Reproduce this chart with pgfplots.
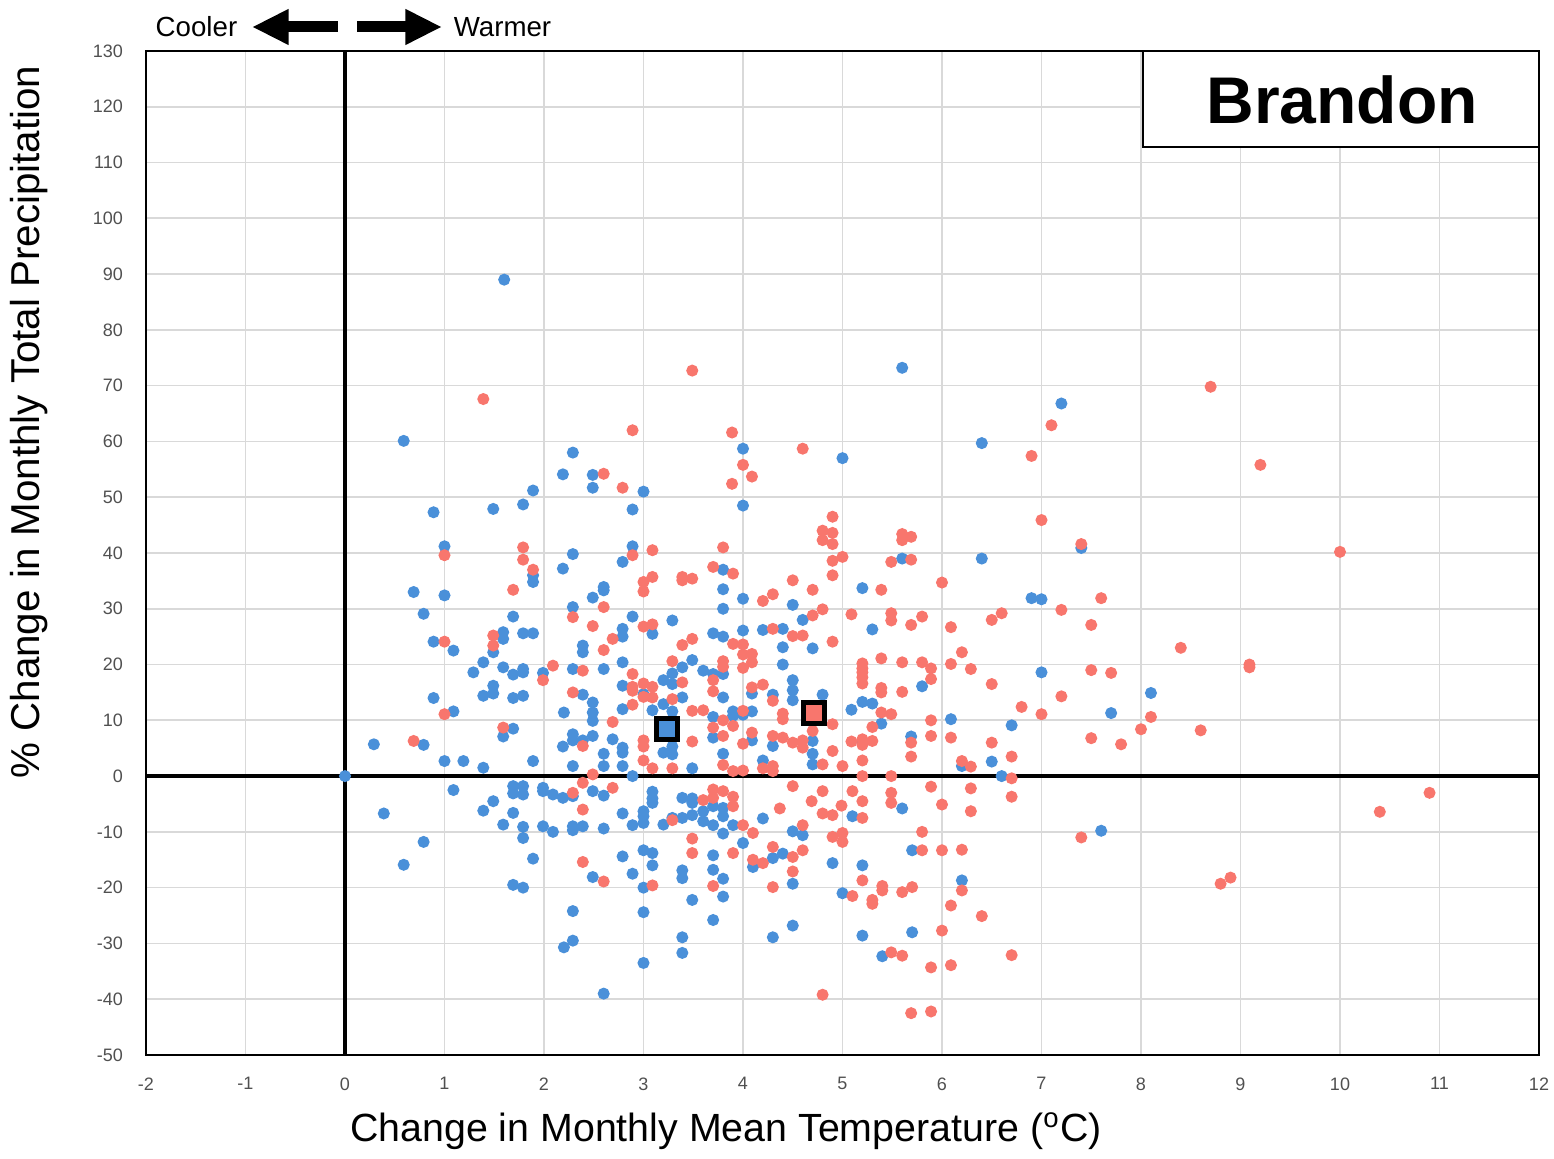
\documentclass[border=0pt]{standalone}
\usepackage{pgfplots}
\pgfplotsset{compat=1.18}
\usepackage{fontspec}
\setmainfont{Liberation Sans}
\usetikzlibrary{arrows.meta}
\definecolor{cblue}{RGB}{74,144,217}
\definecolor{cred}{RGB}{248,118,109}
\definecolor{ticklab}{RGB}{80,80,80}
\begin{document}
\begin{tikzpicture}
\useasboundingbox (-43.8pt,-31.2pt) rectangle (422.4pt,316.5pt);
\begin{axis}[
  scale only axis, width=417.9pt, height=301.2pt,
  xmin=-2, xmax=12, ymin=-50, ymax=130,
  xtick={-2,-1,...,12}, ytick={-50,-40,...,130},
  grid=major, major grid style={draw=black!15, line width=0.5pt},
  axis line style={black, line width=0.7pt},
  major tick length=0pt,
  /pgf/number format/assume math mode=true,
  tick label style={font=\fontsize{5.4}{6}\selectfont, color=ticklab},
  xticklabel style={yshift=-3.2pt},
  yticklabel style={xshift=-3.4pt},
  clip=false,
]
\addplot[only marks, mark=*, mark size=1.6pt, color=cblue, mark options={fill=cblue, draw=cblue}] coordinates {
(0.59,60.1)(0.89,47.3)(1.49,47.9)(1.79,48.7)(1.89,51.2)(2.19,54.1)(2.29,58)(1.0,41.2)(1.6,89)
(2.49,54)(4.0,58.7)(2.49,51.7)(3.0,51)(2.89,47.8)(4.0,48.5)(2.89,41.2)(2.29,39.8)(2.79,38.4)
(5.6,73.2)(5.0,57)(6.4,59.7)(5.6,39)(6.4,39)(7.2,66.8)(7.4,40.9)
(6.9,31.9)(7.0,31.7)(7.0,18.6)(7.7,11.3)(6.7,9.1)(6.6,0)(8.1,14.9)(7.6,-9.8)
(1.89,36)(1.89,34.8)(2.19,37.2)(0.69,33)(1.0,32.4)(0.79,29.1)(1.69,28.6)(0.89,24.1)(1.09,22.5)
(1.59,25.8)(1.59,24.6)(1.79,25.6)(1.89,25.6)(1.49,22.2)(1.39,20.4)(1.29,18.6)(1.59,19.5)(1.69,18.2)
(1.79,19.2)(1.79,18.6)(1.99,18.5)(1.49,16.2)(1.49,14.8)(1.39,14.4)(1.69,14)(1.79,14.4)(0.89,14)
(1.09,11.6)(1.69,8.5)(1.59,7.1)(0.29,5.7)(0.79,5.6)(2.19,5.3)(1.0,2.7)(1.19,2.7)(1.39,1.5)(1.89,2.7)(0,0)
(1.09,-2.5)(0.39,-6.7)(1.39,-6.2)(1.49,-4.5)(1.69,-1.8)(1.79,-1.8)(1.69,-3.1)(1.79,-3.3)(1.99,-2.1)
(1.99,-2.7)(2.09,-3.3)(2.19,-3.9)(1.69,-6.6)(1.59,-8.7)(1.79,-9.1)(1.79,-11.1)(1.99,-9)(2.09,-10)
(0.79,-11.8)(0.59,-15.9)(1.89,-14.8)(1.69,-19.5)(1.79,-20)
(2.29,-3.6)(2.29,-9)(2.29,-9.7)(2.39,-9)(2.49,-2.7)(2.6,-3.5)(2.6,-9.4)(2.79,-6.7)(2.89,-8.8)
(3.0,-6.3)(3.0,-7.2)(3.0,-8.4)(3.09,-2.8)(3.09,-4)(3.09,-4.8)(3.2,-8.7)(3.29,-7.5)(3.39,-7.5)(3.49,-7)
(3.39,-3.9)(3.49,-4)(3.49,-4.8)(3.6,-6.3)(3.6,-8.1)(3.7,-5.4)(3.7,-8.8)(3.8,-5.7)(3.8,-7.2)(3.9,-8.8)
(3.8,-10.3)(4.0,-12)(4.2,-7.6)(2.29,-24.2)(2.29,-29.5)(2.2,-30.7)(2.49,-18.1)(2.79,-14.4)(2.89,-17.5)
(3.0,-13.3)(3.09,-13.8)(3.09,-16)(3.0,-20)(3.0,-24.4)(3.0,-33.5)(2.6,-39)(3.7,-14.2)(3.7,-16.8)
(3.8,-18.4)(3.39,-16.9)(3.39,-18.3)(3.49,-22.2)(3.8,-21.6)(3.7,-25.8)(3.39,-28.9)(3.39,-31.7)
(4.1,-16.3)(4.3,-14.7)(4.3,-28.9)
(5.6,-5.8)(5.1,-7.2)(4.5,-9.9)(4.6,-10.6)(4.4,-13.9)(4.5,-19.3)(4.9,-15.6)(5.2,-16)(5.0,-21)
(5.7,-13.3)(6.2,-18.7)(5.7,-28)(5.2,-28.6)(4.5,-26.8)(5.4,-32.3)
(2.6,33.9)(2.6,33.3)(2.49,32)(2.29,30.3)(3.8,37)(3.8,33.5)(3.8,30)(4.0,31.8)(2.89,28.6)(2.79,26.4)
(2.79,25)(3.09,25.5)(3.29,27.9)(2.39,23.4)(2.39,22.2)(3.7,25.6)(3.8,25)(4.0,26.1)(4.2,26.2)
(2.29,19.2)(2.6,19.2)(2.79,20.4)(2.79,16.2)(2.79,12)(3.0,14.7)(3.2,17.2)(3.29,18.4)(3.29,16.5)
(3.39,19.5)(3.49,20.8)(3.6,18.9)(3.7,18.3)(3.8,18.3)(3.8,14.1)(3.2,12.9)(3.09,11.8)(3.39,14.1)
(3.29,11.6)(2.39,14.6)(2.49,13.2)(2.49,11.4)(2.49,9.9)(2.49,7.2)(2.29,7.5)(2.29,6.4)(2.39,6.4)
(2.2,11.4)(2.69,6.6)(2.6,4)(2.79,5.1)(2.79,4.2)(3.2,4.2)(3.29,5.3)(3.29,3.9)(3.7,10.6)(3.7,6.9)
(3.9,11.6)(3.9,10.8)(4.0,11)(4.09,11.6)(4.09,14.8)(4.09,6.4)(4.3,14.6)(4.3,5.4)(3.8,4)(4.2,2.8)
(2.6,1.8)(2.29,1.8)(2.79,1.8)(3.49,1.4)(2.89,0)
(5.2,33.7)(4.5,30.7)(4.6,28)(4.4,26.4)(4.4,23.1)(4.4,20)(4.7,22.9)(5.3,26.3)(4.5,17.2)(4.5,15.4)
(4.5,13.6)(4.8,14.6)(5.09,11.9)(5.2,13.3)(5.3,13)(5.8,16.1)(5.39,9.4)(6.09,10.2)(5.69,7.1)(4.7,6.3)
(4.7,4)(4.7,2.1)(5.2,6)(6.5,2.6)(6.2,1.8)
};
\addplot[only marks, mark=*, mark size=1.6pt, color=cred, mark options={fill=cred, draw=cred}] coordinates {
(1.39,67.6)(1.0,39.6)(1.79,41)(1.79,38.8)
(3.49,72.7)(2.89,62)(3.89,61.6)(4.0,55.8)(4.09,53.7)(3.89,52.4)(2.6,54.2)(2.79,51.7)(2.89,39.6)(3.09,40.5)(3.8,41)
(4.6,58.7)(4.9,46.5)(4.8,44)(4.9,43.6)(4.8,42.3)(4.9,41.6)(5.6,43.4)(5.6,42.3)(5.69,42.9)(5.0,39.3)(4.9,38.6)(5.69,38.8)(5.49,38.4)
(7.1,62.9)(6.9,57.4)(7.0,45.9)(7.4,41.6)(8.7,69.8)
(9.2,55.8)(10.0,40.2)(9.09,20)(9.09,19.5)(10.4,-6.4)(10.9,-3)(8.8,-19.3)(8.9,-18.2)
(6.6,29.2)(6.5,28)(7.6,31.9)(7.2,29.8)(7.5,27.1)(8.4,23)(7.5,19)(7.7,18.5)(7.2,14.3)(6.8,12.4)
(7.0,11.1)(8.1,10.6)(8.0,8.4)(8.6,8.2)(7.5,6.8)(7.8,5.7)(6.5,6)(6.7,3.5)(6.7,-0.4)(6.5,16.5)
(6.7,-3.7)(7.4,-11)(6.7,-32.1)
(1.89,37)(1.69,33.4)(1.0,24.1)(1.49,25.2)(1.49,23.4)(2.09,19.8)(1.99,17.2)(1.0,11.1)(1.59,8.7)(0.69,6.3)
(2.29,-3)(2.39,-1.2)(2.39,-6)(2.69,-2.1)(3.29,-7.9)(3.6,-4.3)(3.7,-2.4)(3.7,-3.9)(3.8,-2.7)(3.9,-3.7)
(3.9,-5.4)(4.0,-8.8)(4.1,-10.2)(4.37,-5.8)(2.39,-15.4)(2.6,-18.9)(3.09,-19.6)(3.49,-11.2)(3.49,-13.8)
(3.7,-19.7)(3.9,-13.8)(4.1,-15)(4.2,-15.6)(4.3,-12.7)(4.3,-19.9)
(4.5,-1.8)(4.8,-2.7)(4.69,-4.5)(4.8,-6.7)(4.9,-7)(5.1,-2.7)(4.99,-5.3)(5.2,-4.5)(5.2,-7.5)(5.49,-3)
(5.49,-4.8)(5.89,-1.9)(6.0,-5.1)(6.29,-2.2)(6.29,-6.3)(4.6,-8.8)(4.6,-13.3)(4.5,-14.5)(4.5,-17.1)
(4.9,-10.9)(5.0,-10.2)(5.0,-11.8)(5.2,-18.7)(5.1,-21.5)(5.3,-22.2)(5.3,-22.9)(5.4,-19.7)(5.4,-20.5)
(5.6,-20.8)(5.7,-19.9)(5.8,-13.3)(5.8,-10)(6.0,-13.3)(6.2,-13.2)(6.2,-20.5)(6.09,-23.2)(6.4,-25.1)
(6.0,-27.7)(5.49,-31.6)(5.6,-32.2)(5.89,-34.3)(6.09,-33.9)(4.8,-39.2)(5.69,-42.5)(5.89,-42.2)
(3.09,35.7)(3.0,34.8)(3.0,33.1)(3.39,35.7)(3.49,35.4)(3.39,35.1)(3.7,37.5)(3.9,36.3)(2.6,30.3)(2.29,28.5)
(4.2,31.4)(4.3,32.6)(2.49,26.9)(2.6,22.6)(2.69,24.6)(3.0,26.8)(3.09,27.2)(3.39,23.5)(3.49,24.6)(3.9,23.7)
(4.0,23.6)(4.0,21.8)(4.09,21.9)(4.09,20.4)(4.3,26.4)(2.39,18.9)(2.29,15)(2.89,18.3)(2.89,16)(2.89,15.3)
(3.0,16.6)(3.09,16)(2.89,12.8)(2.69,9.7)(3.0,14.2)(3.09,14.1)(3.29,20.6)(3.39,16.8)(3.29,13.8)(3.7,17.2)
(3.7,15.2)(3.8,20.6)(3.8,19.6)(4.0,19.4)(4.09,15.9)(4.2,16.4)(4.3,13.5)(3.49,11.7)(3.6,11.8)(3.8,10)
(3.9,9)(3.7,8.7)(3.8,7.2)(4.0,11.7)(4.09,7.8)(4.3,7.2)(3.0,6.4)(3.0,5.3)(3.0,2.8)(2.39,5.4)(3.49,6.2)
(4.0,5.8)(3.09,1.4)(3.29,1.4)(3.8,2)(3.9,0.9)(4.0,1)(4.2,1.4)(4.3,1.8)(4.3,0.9)(2.49,0.3)
(4.9,36)(4.5,35.1)(4.7,33.4)(5.39,33.4)(6.0,34.7)(4.7,28.8)(4.8,29.9)(5.09,29)(5.49,29.2)(5.49,27.9)
(5.69,27.1)(5.8,28.6)(6.09,26.7)(4.5,25.1)(4.6,25.2)(4.9,24.1)(6.2,22.2)(6.29,19.2)(6.09,20.1)
(5.2,20.2)(5.2,19.3)(5.2,18.6)(5.2,17.7)(5.2,16.6)(5.39,21.1)(5.6,20.4)(5.8,20.4)(5.89,19.3)(5.89,17.4)
(5.39,15.8)(5.39,15)(5.6,15.1)(5.39,11.4)(5.49,11.1)(5.3,8.8)(5.89,10)(5.89,7.2)(6.09,6.9)(4.4,11.2)
(4.4,10.2)(4.9,9.3)(4.7,8.1)(4.5,6)(4.6,6.4)(4.6,5.1)(4.9,4.5)(4.8,2.1)(5.09,6.2)(5.2,6.6)(5.2,5.6)
(5.3,6.3)(5.0,1.8)(5.2,2.8)(5.69,6)(5.69,3.5)(6.2,2.7)(6.29,1.7)(4.4,6.9)(5.49,0)(5.2,0)
};
\addplot[only marks, mark=square*, mark size=3.15pt, mark options={fill=cblue, draw=black, line width=1.5pt}] coordinates {(3.24,8.4)};
\addplot[only marks, mark=square*, mark size=3.15pt, mark options={fill=cred, draw=black, line width=1.5pt}] coordinates {(4.71,11.4)};
\draw[black, line width=1.2pt] (axis cs:0,-50) -- (axis cs:0,130);
\draw[black, line width=1.2pt] (axis cs:-2,0) -- (axis cs:12,0);
\end{axis}
% annotations
\node[font=\fontsize{11.8}{13}\selectfont] at (174pt,-22.8pt) {Change in Monthly Mean Temperature (\textsuperscript{o}C)};
\node[font=\fontsize{12.1}{14}\selectfont, rotate=90] at (-35.2pt,189.9pt) {\% Change in Monthly Total Precipitation};
\node[font=\fontsize{8.3}{10}\selectfont] at (15.15pt,308.4pt) {Cooler};
\node[font=\fontsize{8.3}{10}\selectfont] at (106.95pt,308.4pt) {Warmer};
\draw[line width=3.3pt, -{Triangle[length=11pt,width=10pt]}] (57.6pt,308.4pt) -- (31.8pt,308.4pt);
\draw[line width=3.3pt, -{Triangle[length=11pt,width=10pt]}] (63.3pt,308.4pt) -- (88.8pt,308.4pt);
\draw[black, line width=0.8pt, fill=white] (299.1pt,272.4pt) rectangle (417.9pt,301.2pt);
\node[font=\fontsize{19.8}{22}\selectfont\bfseries] at (358.8pt,286.5pt) {Brandon};
\end{tikzpicture}
\end{document}
